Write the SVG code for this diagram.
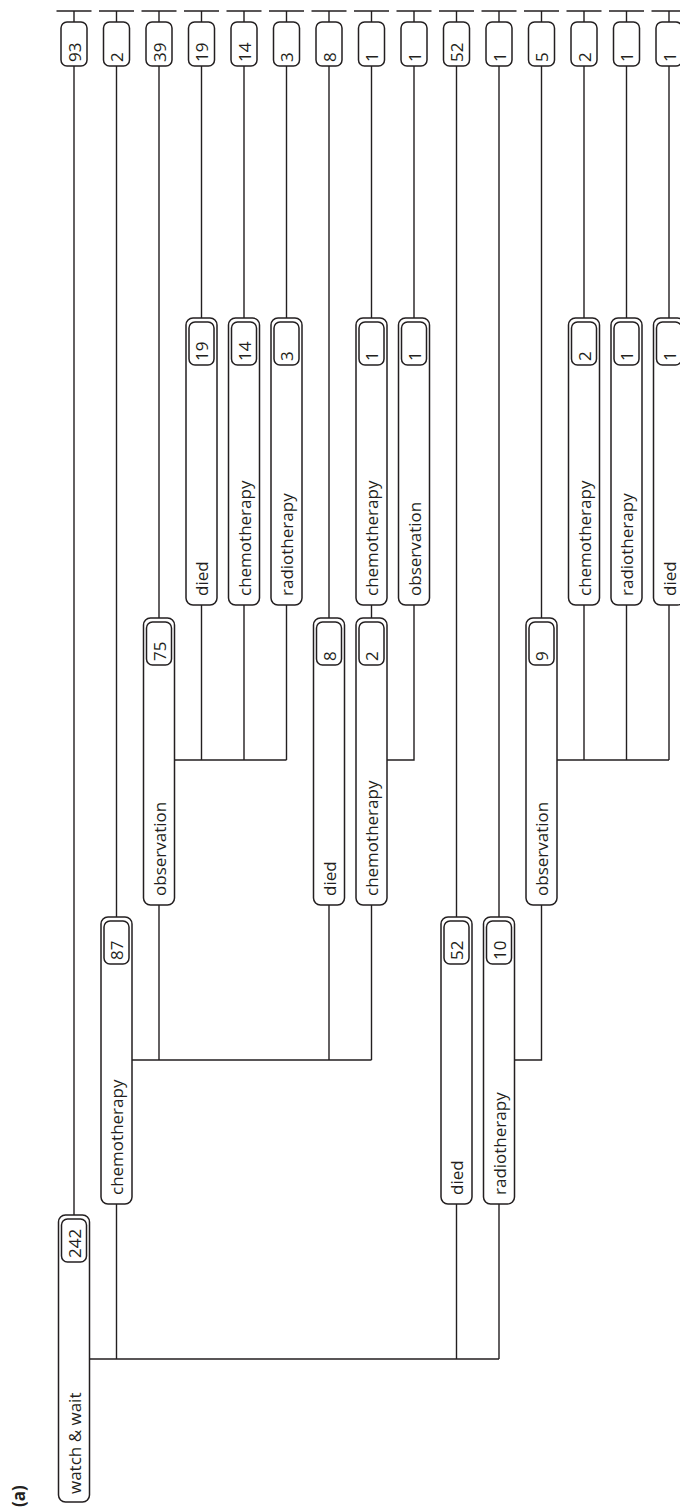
<svg xmlns="http://www.w3.org/2000/svg" width="680" height="1508" viewBox="0 0 680 1508">
<style>
.box{fill:#fff;stroke:#231f20;stroke-width:1.5}
.cnt{fill:#fff;stroke:#231f20;stroke-width:1.5}
.ln{fill:none;stroke:#231f20;stroke-width:1.4}
text{font-family:"Open Sans","Noto Sans","Liberation Sans",sans-serif;font-size:17px;fill:#231f20}
</style>
<rect width="680" height="1508" fill="#fff"/>
<text x="25" y="1507" font-weight="bold" transform="rotate(-90 25 1507)">(a)</text>
<g id="connectors" class="ln">
<path d="M74 1215V66M116.5 917V66M159 618V66M201.5 318V66M244 318V66M286.5 318V66M329 618V66M371.5 318V66M371.5 618V605M414 318V66M456.5 917V66M499 917V66M541.5 618V66M584 318V66M626.5 318V66M669 318V66"/>
<path d="M89.5 1359H499M116.5 1359V1204M456.5 1359V1204M499 1359V1204"/>
<path d="M132 1060H371.5M159 1060V905M329 1060V905M371.5 1060V905"/>
<path d="M174.5 760H286.5M201.5 760V605M244 760V605M286.5 760V605"/>
<path d="M387 760H414V605"/>
<path d="M514.5 1060H541.5V905"/>
<path d="M557 760H669M584 760V605M626.5 760V605M669 760V605"/>
<path d="M56.5 11H91.5M74 11V22M99 11H134M116.5 11V22M141.5 11H176.5M159 11V22M184 11H219M201.5 11V22M226.5 11H261.5M244 11V22M269 11H304M286.5 11V22M311.5 11H346.5M329 11V22M354 11H389M371.5 11V22M396.5 11H431.5M414 11V22M439 11H474M456.5 11V22M481.5 11H516.5M499 11V22M524 11H559M541.5 11V22M566.5 11H601.5M584 11V22M609 11H644M626.5 11V22M651.5 11H686.5M669 11V22"/>
</g>
<g id="leaves">
<g id="leaf-93"><rect class="box" x="61" y="22" width="26" height="44" rx="6"/><text x="80.5" y="62" transform="rotate(-90 80.5 62)">93</text></g>
<g id="leaf-2a"><rect class="box" x="103.5" y="22" width="26" height="44" rx="6"/><text x="123" y="62" transform="rotate(-90 123 62)">2</text></g>
<g id="leaf-39"><rect class="box" x="146" y="22" width="26" height="44" rx="6"/><text x="165.5" y="62" transform="rotate(-90 165.5 62)">39</text></g>
<g id="leaf-19"><rect class="box" x="188.5" y="22" width="26" height="44" rx="6"/><text x="208" y="62" transform="rotate(-90 208 62)">19</text></g>
<g id="leaf-14"><rect class="box" x="231" y="22" width="26" height="44" rx="6"/><text x="250.5" y="62" transform="rotate(-90 250.5 62)">14</text></g>
<g id="leaf-3"><rect class="box" x="273.5" y="22" width="26" height="44" rx="6"/><text x="293" y="62" transform="rotate(-90 293 62)">3</text></g>
<g id="leaf-8"><rect class="box" x="316" y="22" width="26" height="44" rx="6"/><text x="335.5" y="62" transform="rotate(-90 335.5 62)">8</text></g>
<g id="leaf-1a"><rect class="box" x="358.5" y="22" width="26" height="44" rx="6"/><text x="378" y="62" transform="rotate(-90 378 62)">1</text></g>
<g id="leaf-1b"><rect class="box" x="401" y="22" width="26" height="44" rx="6"/><text x="420.5" y="62" transform="rotate(-90 420.5 62)">1</text></g>
<g id="leaf-52"><rect class="box" x="443.5" y="22" width="26" height="44" rx="6"/><text x="463" y="62" transform="rotate(-90 463 62)">52</text></g>
<g id="leaf-1c"><rect class="box" x="486" y="22" width="26" height="44" rx="6"/><text x="505.5" y="62" transform="rotate(-90 505.5 62)">1</text></g>
<g id="leaf-5"><rect class="box" x="528.5" y="22" width="26" height="44" rx="6"/><text x="548" y="62" transform="rotate(-90 548 62)">5</text></g>
<g id="leaf-2b"><rect class="box" x="571" y="22" width="26" height="44" rx="6"/><text x="590.5" y="62" transform="rotate(-90 590.5 62)">2</text></g>
<g id="leaf-1d"><rect class="box" x="613.5" y="22" width="26" height="44" rx="6"/><text x="633" y="62" transform="rotate(-90 633 62)">1</text></g>
<g id="leaf-1e"><rect class="box" x="656" y="22" width="26" height="44" rx="6"/><text x="675.5" y="62" transform="rotate(-90 675.5 62)">1</text></g>
</g>
<g id="root">
<rect class="box" x="58.5" y="1215" width="31" height="287" rx="7"/>
<rect class="cnt" x="61.5" y="1219" width="25" height="43" rx="6"/>
<text x="80.5" y="1258" transform="rotate(-90 80.5 1258)">242</text>
<text x="80.5" y="1494" transform="rotate(-90 80.5 1494)">watch &amp; wait</text>
</g>
<g id="chemo-87">
<rect class="box" x="101" y="917" width="31" height="287" rx="7"/>
<rect class="cnt" x="104" y="921" width="25" height="43" rx="6"/>
<text x="123" y="960" transform="rotate(-90 123 960)">87</text>
<text x="123" y="1195" transform="rotate(-90 123 1195)">chemotherapy</text>
</g>
<g id="died-52">
<rect class="box" x="441" y="917" width="31" height="287" rx="7"/>
<rect class="cnt" x="444" y="921" width="25" height="43" rx="6"/>
<text x="463" y="960" transform="rotate(-90 463 960)">52</text>
<text x="463" y="1195" transform="rotate(-90 463 1195)">died</text>
</g>
<g id="radio-10">
<rect class="box" x="483.5" y="917" width="31" height="287" rx="7"/>
<rect class="cnt" x="486.5" y="921" width="25" height="43" rx="6"/>
<text x="505.5" y="960" transform="rotate(-90 505.5 960)">10</text>
<text x="505.5" y="1195" transform="rotate(-90 505.5 1195)">radiotherapy</text>
</g>
<g id="obs-75">
<rect class="box" x="143.5" y="618" width="31" height="287" rx="7"/>
<rect class="cnt" x="146.5" y="622" width="25" height="43" rx="6"/>
<text x="165.5" y="661" transform="rotate(-90 165.5 661)">75</text>
<text x="165.5" y="896" transform="rotate(-90 165.5 896)">observation</text>
</g>
<g id="died-8">
<rect class="box" x="313.5" y="618" width="31" height="287" rx="7"/>
<rect class="cnt" x="316.5" y="622" width="25" height="43" rx="6"/>
<text x="335.5" y="661" transform="rotate(-90 335.5 661)">8</text>
<text x="335.5" y="896" transform="rotate(-90 335.5 896)">died</text>
</g>
<g id="chemo-2">
<rect class="box" x="356" y="618" width="31" height="287" rx="7"/>
<rect class="cnt" x="359" y="622" width="25" height="43" rx="6"/>
<text x="378" y="661" transform="rotate(-90 378 661)">2</text>
<text x="378" y="896" transform="rotate(-90 378 896)">chemotherapy</text>
</g>
<g id="obs-9">
<rect class="box" x="526" y="618" width="31" height="287" rx="7"/>
<rect class="cnt" x="529" y="622" width="25" height="43" rx="6"/>
<text x="548" y="661" transform="rotate(-90 548 661)">9</text>
<text x="548" y="896" transform="rotate(-90 548 896)">observation</text>
</g>
<g id="died-19">
<rect class="box" x="186" y="318" width="31" height="287" rx="7"/>
<rect class="cnt" x="189" y="322" width="25" height="43" rx="6"/>
<text x="208" y="361" transform="rotate(-90 208 361)">19</text>
<text x="208" y="596" transform="rotate(-90 208 596)">died</text>
</g>
<g id="chemo-14">
<rect class="box" x="228.5" y="318" width="31" height="287" rx="7"/>
<rect class="cnt" x="231.5" y="322" width="25" height="43" rx="6"/>
<text x="250.5" y="361" transform="rotate(-90 250.5 361)">14</text>
<text x="250.5" y="596" transform="rotate(-90 250.5 596)">chemotherapy</text>
</g>
<g id="radio-3">
<rect class="box" x="271" y="318" width="31" height="287" rx="7"/>
<rect class="cnt" x="274" y="322" width="25" height="43" rx="6"/>
<text x="293" y="361" transform="rotate(-90 293 361)">3</text>
<text x="293" y="596" transform="rotate(-90 293 596)">radiotherapy</text>
</g>
<g id="chemo-1">
<rect class="box" x="356" y="318" width="31" height="287" rx="7"/>
<rect class="cnt" x="359" y="322" width="25" height="43" rx="6"/>
<text x="378" y="361" transform="rotate(-90 378 361)">1</text>
<text x="378" y="596" transform="rotate(-90 378 596)">chemotherapy</text>
</g>
<g id="obs-1">
<rect class="box" x="398.5" y="318" width="31" height="287" rx="7"/>
<rect class="cnt" x="401.5" y="322" width="25" height="43" rx="6"/>
<text x="420.5" y="361" transform="rotate(-90 420.5 361)">1</text>
<text x="420.5" y="596" transform="rotate(-90 420.5 596)">observation</text>
</g>
<g id="chemo-2b">
<rect class="box" x="568.5" y="318" width="31" height="287" rx="7"/>
<rect class="cnt" x="571.5" y="322" width="25" height="43" rx="6"/>
<text x="590.5" y="361" transform="rotate(-90 590.5 361)">2</text>
<text x="590.5" y="596" transform="rotate(-90 590.5 596)">chemotherapy</text>
</g>
<g id="radio-1">
<rect class="box" x="611" y="318" width="31" height="287" rx="7"/>
<rect class="cnt" x="614" y="322" width="25" height="43" rx="6"/>
<text x="633" y="361" transform="rotate(-90 633 361)">1</text>
<text x="633" y="596" transform="rotate(-90 633 596)">radiotherapy</text>
</g>
<g id="died-1">
<rect class="box" x="653.5" y="318" width="31" height="287" rx="7"/>
<rect class="cnt" x="656.5" y="322" width="25" height="43" rx="6"/>
<text x="675.5" y="361" transform="rotate(-90 675.5 361)">1</text>
<text x="675.5" y="596" transform="rotate(-90 675.5 596)">died</text>
</g>
</svg>
